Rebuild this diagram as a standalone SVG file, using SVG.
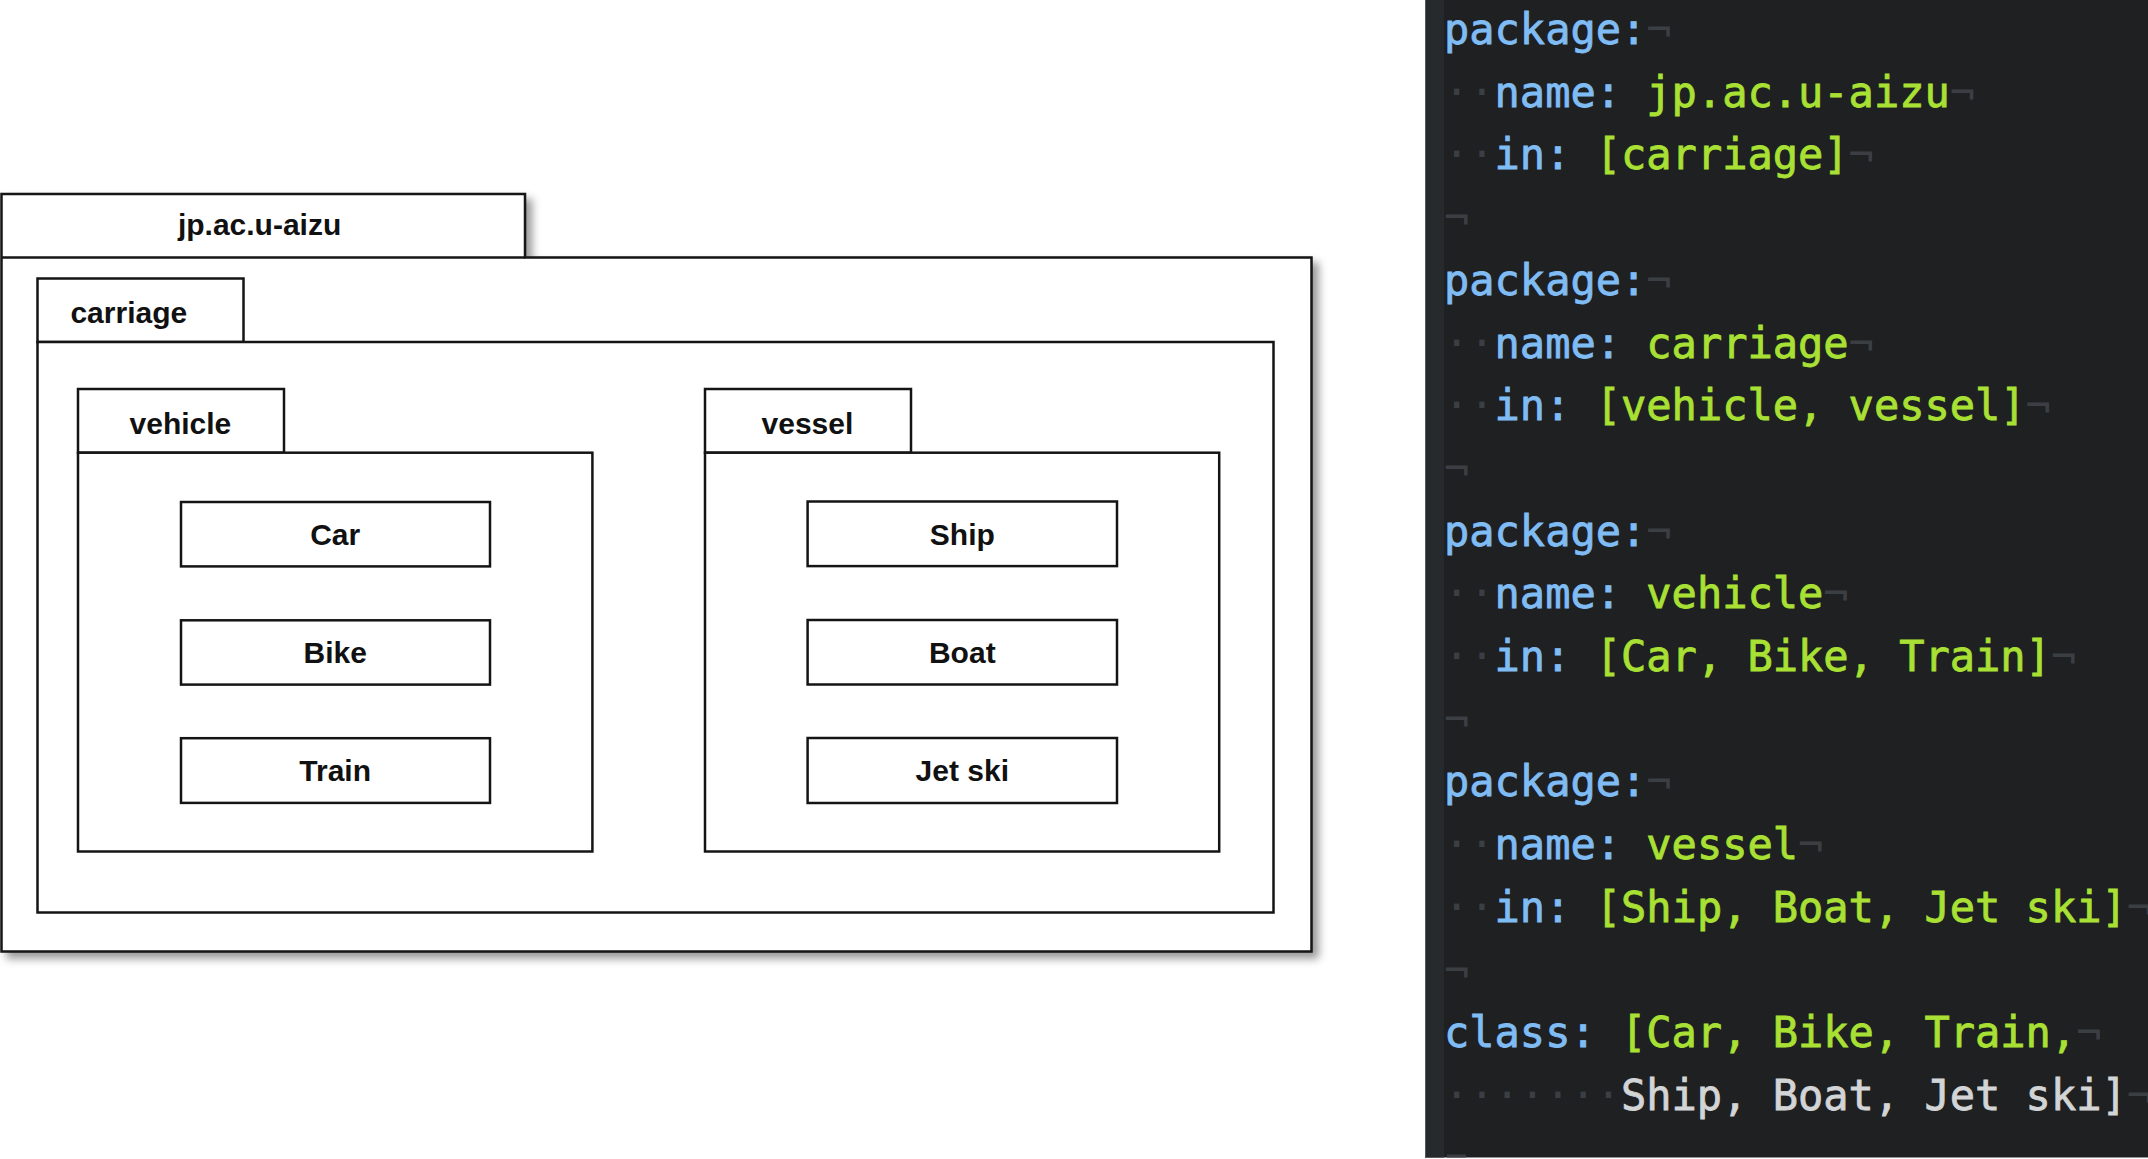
<svg xmlns="http://www.w3.org/2000/svg" width="2148" height="1159" viewBox="0 0 2148 1159">
  <style>
    .box { fill: #ffffff; stroke: #141414; stroke-width: 2.5; }
    .lbl { font-family: "Liberation Sans", Arial, sans-serif; font-weight: bold; font-size: 30px; fill: #111111; text-anchor: middle; }
    .code { font-family: "DejaVu Sans Mono", "Liberation Mono", monospace; font-size: 42px; }
    .k { fill: #80bcf4; stroke: #80bcf4; stroke-width: 0.8; }
    .v { fill: #a9e034; stroke: #a9e034; stroke-width: 0.8; }
    .g { fill: #d2d4d6; stroke: #d2d4d6; stroke-width: 0.8; }
    .ws { fill: #3b3f43; }
  </style>
  <defs>
    <filter id="shadow" x="-5%" y="-5%" width="115%" height="115%">
      <feDropShadow dx="6" dy="6" stdDeviation="4" flood-color="#000000" flood-opacity="0.4"/>
    </filter>
    <clipPath id="panelClip">
      <rect x="1425" y="0" width="723" height="1157.5"/>
    </clipPath>
  </defs>
  <rect x="0" y="0" width="2148" height="1159" fill="#ffffff"/>

  <!-- Package diagram -->
  <g id="pkg-jp-ac-u-aizu" filter="url(#shadow)">
    <path class="box" d="M1.5 194 H525 V257.5 H1311.5 V951.5 H1.5 Z"/>
    <line x1="1.5" y1="257.5" x2="525" y2="257.5" stroke="#141414" stroke-width="2.5"/>
  </g>
  <text class="lbl" x="259.6" y="235">jp.ac.u-aizu</text>

  <g id="pkg-carriage">
    <rect class="box" x="37.5" y="278.5" width="206" height="63.5"/>
    <rect class="box" x="37.5" y="342" width="1236" height="570.5"/>
    <text class="lbl" x="128.8" y="322.5">carriage</text>
  </g>

  <g id="pkg-vehicle">
    <rect class="box" x="78" y="389" width="206" height="63.7"/>
    <rect class="box" x="78" y="452.7" width="514.4" height="398.8"/>
    <text class="lbl" x="180.4" y="433.6">vehicle</text>
  </g>

  <g id="pkg-vessel">
    <rect class="box" x="705" y="389" width="206" height="63.7"/>
    <rect class="box" x="705" y="452.7" width="514.2" height="398.8"/>
    <text class="lbl" x="807.4" y="433.5">vessel</text>
  </g>

  <g id="class-car">
    <rect class="box" x="181" y="502" width="309" height="64.4"/>
    <text class="lbl" x="335.2" y="544.9">Car</text>
  </g>
  <g id="class-bike">
    <rect class="box" x="181" y="620.3" width="309" height="64.3"/>
    <text class="lbl" x="335.2" y="663.2">Bike</text>
  </g>
  <g id="class-train">
    <rect class="box" x="181" y="738.2" width="309" height="64.7"/>
    <text class="lbl" x="335.2" y="781.3">Train</text>
  </g>
  <g id="class-ship">
    <rect class="box" x="807.6" y="501.5" width="309.4" height="64.6"/>
    <text class="lbl" x="962.3" y="544.6">Ship</text>
  </g>
  <g id="class-boat">
    <rect class="box" x="807.6" y="620" width="309.4" height="64.5"/>
    <text class="lbl" x="962.3" y="663">Boat</text>
  </g>
  <g id="class-jetski">
    <rect class="box" x="807.6" y="738" width="309.4" height="65"/>
    <text class="lbl" x="962.3" y="781.2">Jet ski</text>
  </g>

  <g id="connectors"></g>

  <!-- Code editor panel -->
  <g id="code-panel">
    <rect x="1425" y="0" width="723" height="1157.5" fill="#1f2022"/>
    <rect x="1425" y="0" width="19" height="1157.5" fill="#272a2d"/>
    <line x1="1425.5" y1="0" x2="1425.5" y2="1157.5" stroke="#55585b" stroke-width="1"/>
    <rect x="1447" y="1154.5" width="19" height="3" fill="#3b3f43"/>
    <g class="code" clip-path="url(#panelClip)">
      <text x="1444" y="44" xml:space="preserve"><tspan class="k">package:</tspan><tspan class="ws">¬</tspan></text>
      <text x="1444" y="106.7" xml:space="preserve"><tspan class="ws">··</tspan><tspan class="k">name:</tspan> <tspan class="v">jp.ac.u-aizu</tspan><tspan class="ws">¬</tspan></text>
      <text x="1444" y="169.4" xml:space="preserve"><tspan class="ws">··</tspan><tspan class="k">in:</tspan> <tspan class="v">[carriage]</tspan><tspan class="ws">¬</tspan></text>
      <text x="1444" y="232.1" xml:space="preserve"><tspan class="ws">¬</tspan></text>
      <text x="1444" y="294.8" xml:space="preserve"><tspan class="k">package:</tspan><tspan class="ws">¬</tspan></text>
      <text x="1444" y="357.5" xml:space="preserve"><tspan class="ws">··</tspan><tspan class="k">name:</tspan> <tspan class="v">carriage</tspan><tspan class="ws">¬</tspan></text>
      <text x="1444" y="420.2" xml:space="preserve"><tspan class="ws">··</tspan><tspan class="k">in:</tspan> <tspan class="v">[vehicle, vessel]</tspan><tspan class="ws">¬</tspan></text>
      <text x="1444" y="482.9" xml:space="preserve"><tspan class="ws">¬</tspan></text>
      <text x="1444" y="545.6" xml:space="preserve"><tspan class="k">package:</tspan><tspan class="ws">¬</tspan></text>
      <text x="1444" y="608.3" xml:space="preserve"><tspan class="ws">··</tspan><tspan class="k">name:</tspan> <tspan class="v">vehicle</tspan><tspan class="ws">¬</tspan></text>
      <text x="1444" y="671" xml:space="preserve"><tspan class="ws">··</tspan><tspan class="k">in:</tspan> <tspan class="v">[Car, Bike, Train]</tspan><tspan class="ws">¬</tspan></text>
      <text x="1444" y="733.7" xml:space="preserve"><tspan class="ws">¬</tspan></text>
      <text x="1444" y="796.4" xml:space="preserve"><tspan class="k">package:</tspan><tspan class="ws">¬</tspan></text>
      <text x="1444" y="859.1" xml:space="preserve"><tspan class="ws">··</tspan><tspan class="k">name:</tspan> <tspan class="v">vessel</tspan><tspan class="ws">¬</tspan></text>
      <text x="1444" y="921.8" xml:space="preserve"><tspan class="ws">··</tspan><tspan class="k">in:</tspan> <tspan class="v">[Ship, Boat, Jet ski]</tspan><tspan class="ws">¬</tspan></text>
      <text x="1444" y="984.5" xml:space="preserve"><tspan class="ws">¬</tspan></text>
      <text x="1444" y="1047.2" xml:space="preserve"><tspan class="k">class:</tspan> <tspan class="v">[Car, Bike, Train,</tspan><tspan class="ws">¬</tspan></text>
      <text x="1444" y="1109.9" xml:space="preserve"><tspan class="ws">·······</tspan><tspan class="g">Ship, Boat, Jet ski]</tspan><tspan class="ws">¬</tspan></text>
    </g>
  </g>
</svg>
